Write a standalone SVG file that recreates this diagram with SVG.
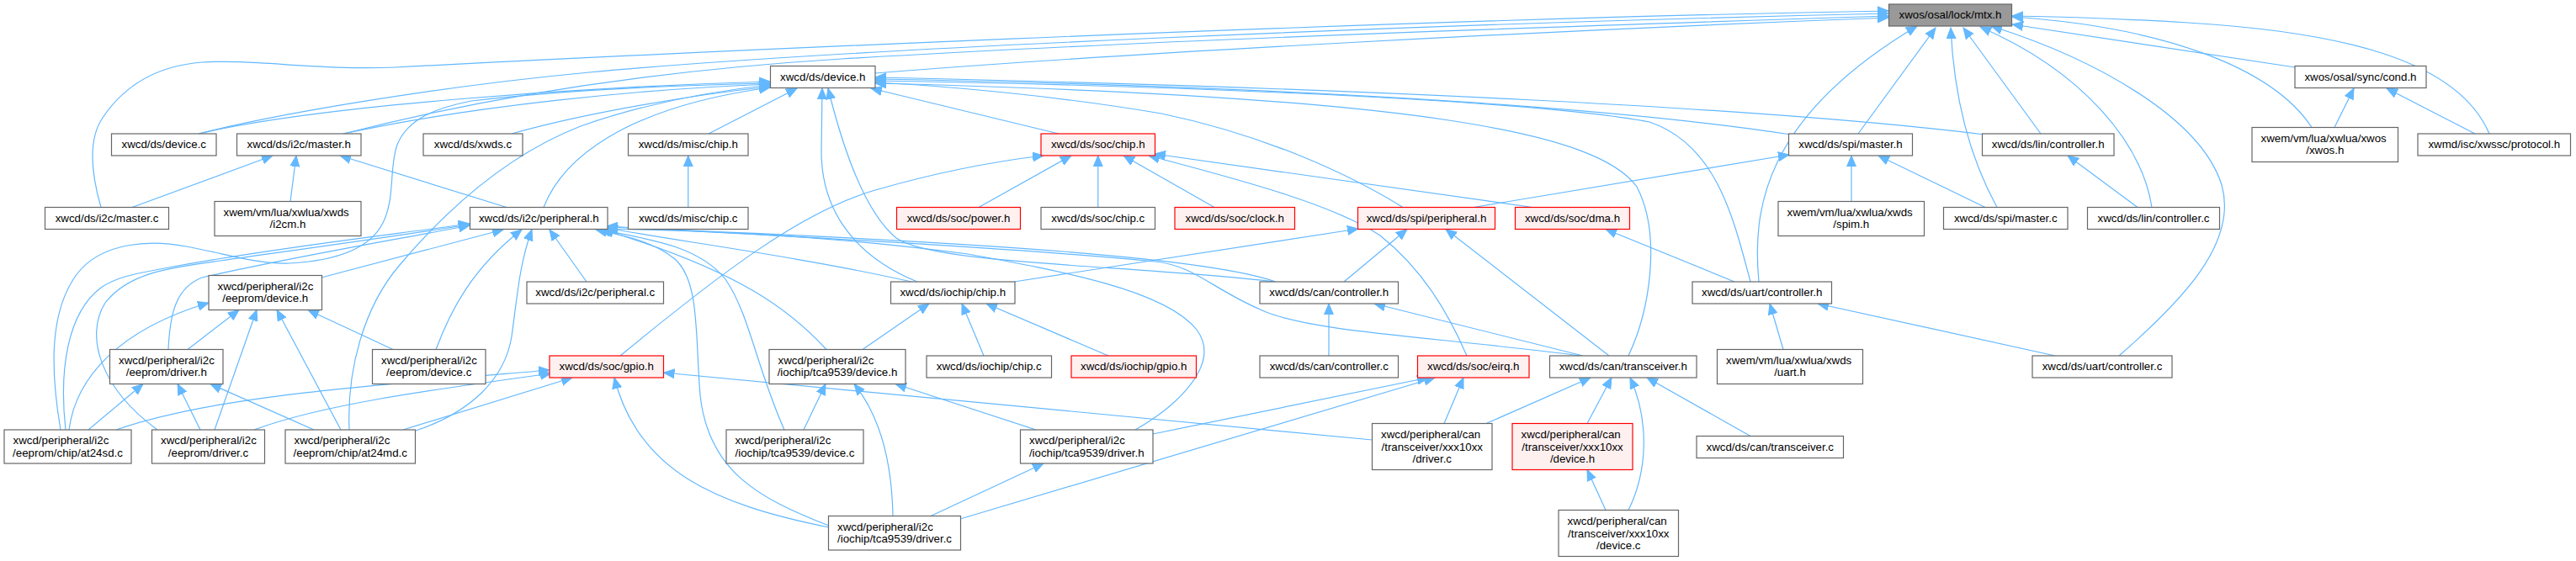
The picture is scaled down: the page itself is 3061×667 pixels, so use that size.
<svg xmlns="http://www.w3.org/2000/svg" width="3061" height="667" viewBox="0 0 3061 667">
<style>
.n{fill:#ffffff;stroke:#666666;stroke-width:1.2}
.r{fill:#fff0f0;stroke:#ff0000;stroke-width:1.2}
.g{fill:#999999;stroke:#666666;stroke-width:1.2}
text{font-family:"Liberation Sans",Arial,Helvetica,sans-serif;font-size:13.3px;fill:#000000}
.c{text-anchor:middle}
.s{text-anchor:start}
#edges path{fill:none;stroke:#63b8ff;stroke-width:1.2;marker-end:url(#a)}
</style>
<defs>
<marker id="a" viewBox="0 -6 14 12" refX="13" refY="0" markerWidth="14" markerHeight="12" markerUnits="userSpaceOnUse" orient="auto"><path d="M0,-5.5L13,0L0,5.5z" fill="#63b8ff" stroke="#63b8ff" stroke-width="1"/></marker>
</defs>
<rect width="3061" height="667" fill="#ffffff"/>
<g id="edges">
<path d="M1040,87 C1350,62 1850,36 2244,21"/>
<path d="M236,159 C330,135 520,103 700,86 C1000,58 1700,28 2244,16"/>
<path d="M408,159 C560,120 760,85 1000,70 C1400,46 1900,30 2244,19"/>
<path d="M120,246.5 C108,205 105,165 122,140 C150,98 190,78 240,74 C300,70 380,84 470,80 C700,68 1600,24 2244,13"/>
<path d="M2208,159 L2300,33"/>
<path d="M2373,246.5 C2342,190 2322,120 2318,33"/>
<path d="M2425,159 L2333,33"/>
<path d="M2557,246.5 C2545,170 2475,85 2353,32"/>
<path d="M2518,423 C2590,360 2660,290 2640,220 C2615,140 2490,70 2366,31"/>
<path d="M2090,335 C2082,250 2095,140 2278,31"/>
<path d="M2727,80 L2391,29"/>
<path d="M2747,151.5 C2700,80 2570,32 2391,20"/>
<path d="M2958,159 C2920,70 2780,38 2600,27 C2520,22 2450,20 2391,19"/>
<path d="M2774,151.5 L2797,105"/>
<path d="M2941,159 L2836,105"/>
<path d="M236,159 C380,125 700,103 915,97"/>
<path d="M408,159 C560,126 760,106 915,100"/>
<path d="M608,159 C700,133 830,112 915,103"/>
<path d="M842,159 L947,105"/>
<path d="M646,246.5 C668,190 740,128 915,104"/>
<path d="M415,511 C412,440 432,365 475,315 C530,250 600,185 690,150 C770,122 850,108 915,101"/>
<path d="M72,511 C60,440 58,370 92,325 C122,287 180,285 221,293 C270,302 310,315 344,313 C400,310 440,295 455,265 C470,235 462,200 472,172 C485,140 520,128 560,120 C680,106 820,101 915,99"/>
<path d="M1258,159 L1035,105"/>
<path d="M1090,335 C1005,300 976,240 976,180 L977,105"/>
<path d="M1515,335 C1350,315 1110,315 1065,283 C1025,250 1000,170 984,105"/>
<path d="M1667,246.5 C1600,205 1500,160 1380,135 C1250,113 1120,102 1040,98"/>
<path d="M2128,160 C1900,125 1500,102 1040,94"/>
<path d="M2358,160 C2100,128 1600,104 1040,92"/>
<path d="M2080,335 C2060,260 2040,172 1960,145 C1800,115 1300,100 1040,96"/>
<path d="M1935,423 C1960,370 1975,280 1945,222 C1900,160 1700,115 1040,99"/>
<path d="M602,246.5 L404,185"/>
<path d="M157,246.5 L324,185"/>
<path d="M345,239.5 L352,185"/>
<path d="M382,330 L598,273"/>
<path d="M200,415.5 C202,370 210,342 240,330 C350,305 470,285 558,268"/>
<path d="M78,511 C70,440 80,372 120,342 C140,328 165,325 195,319 C320,296 450,281 558,266"/>
<path d="M187,511 C120,462 100,400 125,360 C152,325 200,318 262,310 C360,296 470,281 558,267"/>
<path d="M494,512 C560,490 600,450 608,400 C615,350 617,315 632,273"/>
<path d="M518,415.5 C535,370 560,320 620,273"/>
<path d="M697,335 L653,273"/>
<path d="M982,415.5 C940,370 880,322 716,273"/>
<path d="M932,511 C900,440 890,372 862,332 C830,292 770,284 712,273"/>
<path d="M985,625 C900,592 842,560 832,470 C826,400 832,335 802,308 C775,286 740,280 708,273"/>
<path d="M1349,511 C1400,482 1452,432 1422,392 C1385,345 1260,322 1150,302 C1000,282 850,274 721,272"/>
<path d="M1083,335 C950,305 800,286 721,271"/>
<path d="M1516,335 C1440,308 1200,289 721,270"/>
<path d="M1879,423 C1700,400 1562,395 1502,370 C1442,345 1420,316 1373,311 C1200,294 900,279 721,269"/>
<path d="M82,511 C90,450 140,392 248,360"/>
<path d="M223,415.5 L284,368.5"/>
<path d="M255,511 L305,368.5"/>
<path d="M405,511 L329,368.5"/>
<path d="M467,415.5 L366,368.5"/>
<path d="M105,511 L170,456.5"/>
<path d="M238,511 L211,456.5"/>
<path d="M373,511 L250,456.5"/>
<path d="M138,511 C250,472 420,460 653,440"/>
<path d="M302,511 C380,482 500,465 655,444"/>
<path d="M479,511 L680,449"/>
<path d="M985,627 C850,600 758,560 730,449"/>
<path d="M1630.5,523 L788.5,443"/>
<path d="M737,423 C850,330 950,252 1040,226 C1120,203 1180,192 1240,185"/>
<path d="M1163,246.5 L1273,185"/>
<path d="M1304.75,246.5 L1304.75,185"/>
<path d="M1443,246.5 L1335,185"/>
<path d="M1821,246.5 L1372,183"/>
<path d="M1743,423 C1720,370 1690,320 1640,280 C1580,240 1450,208 1365,185"/>
<path d="M1751,246.5 L2126,184"/>
<path d="M2200,239.5 L2200,185"/>
<path d="M2359,246.5 L2232,185"/>
<path d="M2540,246.5 L2457,185"/>
<path d="M817.75,246.5 L817.75,185"/>
<path d="M1205,335 L1614,272"/>
<path d="M1597,335 L1672,272.5"/>
<path d="M1912,423 L1718,272.5"/>
<path d="M2061,335 L1908,272.5"/>
<path d="M2119,415.5 L2103,361"/>
<path d="M2442,423 L2160,361"/>
<path d="M1025,415.5 L1104,361"/>
<path d="M1169,423 L1143,361"/>
<path d="M1317,423 L1172,361"/>
<path d="M1579,423 L1579,361"/>
<path d="M1881,423 L1633,361"/>
<path d="M1716,503.5 L1739,449"/>
<path d="M1370,516 L1697,449"/>
<path d="M1141,617 C1300,570 1500,510 1705,449"/>
<path d="M1766,503.5 L1890,449"/>
<path d="M1886,503.5 L1915,449"/>
<path d="M1935,606.5 C1958,560 1960,500 1937,449"/>
<path d="M2080,518.5 L1957,449"/>
<path d="M1908,606.5 L1886,558.5"/>
<path d="M955,511 L981,456.5"/>
<path d="M1061,613.5 C1060,560 1050,500 1015,456.5"/>
<path d="M1231,511 L1064,456.5"/>
<path d="M1106,613.5 L1240,551"/>
</g>
<g id="mtx"><rect class="g" x="2244.5" y="5" width="146" height="26"/><text class="c" x="2317.5" y="22">xwos/osal/lock/mtx.h</text></g>
<g id="devh"><rect class="n" x="915.5" y="78.5" width="124.5" height="26"/><text class="c" x="977.75" y="95.5">xwcd/ds/device.h</text></g>
<g id="cond"><rect class="n" x="2727" y="78.5" width="156" height="26"/><text class="c" x="2805" y="95.5">xwos/osal/sync/cond.h</text></g>
<g id="devc"><rect class="n" x="132.5" y="159" width="124.5" height="26"/><text class="c" x="194.75" y="176">xwcd/ds/device.c</text></g>
<g id="i2cmh"><rect class="n" x="281.5" y="159" width="147.5" height="26"/><text class="c" x="355.25" y="176">xwcd/ds/i2c/master.h</text></g>
<g id="xwds"><rect class="n" x="503" y="159" width="118" height="26"/><text class="c" x="562" y="176">xwcd/ds/xwds.c</text></g>
<g id="mischiph"><rect class="n" x="746.5" y="159" width="142.5" height="26"/><text class="c" x="817.75" y="176">xwcd/ds/misc/chip.h</text></g>
<g id="socchip"><rect class="r" x="1237" y="159" width="135.5" height="26"/><text class="c" x="1304.75" y="176">xwcd/ds/soc/chip.h</text></g>
<g id="spimh"><rect class="n" x="2125.5" y="159" width="147" height="26"/><text class="c" x="2199" y="176">xwcd/ds/spi/master.h</text></g>
<g id="linh"><rect class="n" x="2355.5" y="159" width="156.5" height="26"/><text class="c" x="2433.75" y="176">xwcd/ds/lin/controller.h</text></g>
<g id="xwos"><rect class="n" x="2676" y="151.5" width="173.5" height="41"/><text class="s" x="2686.5" y="168.5">xwem/vm/lua/xwlua/xwos</text><text class="c" x="2762.75" y="183">/xwos.h</text></g>
<g id="protocol"><rect class="n" x="2873" y="159" width="181.5" height="26"/><text class="c" x="2963.75" y="176">xwmd/isc/xwssc/protocol.h</text></g>
<g id="i2cmc"><rect class="n" x="53.5" y="246.5" width="147" height="26"/><text class="c" x="127" y="263.5">xwcd/ds/i2c/master.c</text></g>
<g id="i2cm"><rect class="n" x="255" y="239.5" width="174" height="41"/><text class="s" x="265.5" y="256.5">xwem/vm/lua/xwlua/xwds</text><text class="c" x="342" y="271">/i2cm.h</text></g>
<g id="periph"><rect class="n" x="558.5" y="246.5" width="163.5" height="26"/><text class="c" x="640.25" y="263.5">xwcd/ds/i2c/peripheral.h</text></g>
<g id="mischipc"><rect class="n" x="746.5" y="246.5" width="142.5" height="26"/><text class="c" x="817.75" y="263.5">xwcd/ds/misc/chip.c</text></g>
<g id="power"><rect class="r" x="1065.5" y="246.5" width="147" height="26"/><text class="c" x="1139" y="263.5">xwcd/ds/soc/power.h</text></g>
<g id="socchipc"><rect class="n" x="1237" y="246.5" width="135.5" height="26"/><text class="c" x="1304.75" y="263.5">xwcd/ds/soc/chip.c</text></g>
<g id="clock"><rect class="r" x="1396" y="246.5" width="142.5" height="26"/><text class="c" x="1467.25" y="263.5">xwcd/ds/soc/clock.h</text></g>
<g id="spiperiph"><rect class="r" x="1613.5" y="246.5" width="163" height="26"/><text class="c" x="1695" y="263.5">xwcd/ds/spi/peripheral.h</text></g>
<g id="dma"><rect class="r" x="1800.5" y="246.5" width="136" height="26"/><text class="c" x="1868.5" y="263.5">xwcd/ds/soc/dma.h</text></g>
<g id="spim"><rect class="n" x="2113" y="239.5" width="173.5" height="41"/><text class="s" x="2123.5" y="256.5">xwem/vm/lua/xwlua/xwds</text><text class="c" x="2199.75" y="271">/spim.h</text></g>
<g id="spimc"><rect class="n" x="2309.5" y="246.5" width="147.5" height="26"/><text class="c" x="2383.25" y="263.5">xwcd/ds/spi/master.c</text></g>
<g id="linc"><rect class="n" x="2480.5" y="246.5" width="157" height="26"/><text class="c" x="2559" y="263.5">xwcd/ds/lin/controller.c</text></g>
<g id="eepdevh"><rect class="n" x="248" y="327.5" width="134.5" height="41"/><text class="s" x="258.5" y="344.5">xwcd/peripheral/i2c</text><text class="c" x="315.25" y="359">/eeprom/device.h</text></g>
<g id="periphc"><rect class="n" x="626" y="335" width="162.5" height="26"/><text class="c" x="707.25" y="352">xwcd/ds/i2c/peripheral.c</text></g>
<g id="iochiph"><rect class="n" x="1058.5" y="335" width="147.5" height="26"/><text class="c" x="1132.25" y="352">xwcd/ds/iochip/chip.h</text></g>
<g id="canctlh"><rect class="n" x="1497" y="335" width="164.5" height="26"/><text class="c" x="1579.25" y="352">xwcd/ds/can/controller.h</text></g>
<g id="uartctlh"><rect class="n" x="2011" y="335" width="165.5" height="26"/><text class="c" x="2093.75" y="352">xwcd/ds/uart/controller.h</text></g>
<g id="eepdrvh"><rect class="n" x="130.5" y="415.5" width="134.5" height="41"/><text class="s" x="141" y="432.5">xwcd/peripheral/i2c</text><text class="c" x="197.75" y="447">/eeprom/driver.h</text></g>
<g id="eepdevc"><rect class="n" x="442.5" y="415.5" width="134.5" height="41"/><text class="s" x="453" y="432.5">xwcd/peripheral/i2c</text><text class="c" x="509.75" y="447">/eeprom/device.c</text></g>
<g id="gpio"><rect class="r" x="653" y="423" width="135.5" height="26"/><text class="c" x="720.75" y="440">xwcd/ds/soc/gpio.h</text></g>
<g id="tcadevh"><rect class="n" x="914" y="415.5" width="162" height="41"/><text class="s" x="924.5" y="432.5">xwcd/peripheral/i2c</text><text class="c" x="995" y="447">/iochip/tca9539/device.h</text></g>
<g id="iochipc"><rect class="n" x="1101" y="423" width="148.5" height="26"/><text class="c" x="1175.25" y="440">xwcd/ds/iochip/chip.c</text></g>
<g id="iogpio"><rect class="r" x="1273" y="423" width="148.5" height="26"/><text class="c" x="1347.25" y="440">xwcd/ds/iochip/gpio.h</text></g>
<g id="canctlc"><rect class="n" x="1497" y="423" width="164.5" height="26"/><text class="c" x="1579.25" y="440">xwcd/ds/can/controller.c</text></g>
<g id="eirq"><rect class="r" x="1684.5" y="423" width="132.5" height="26"/><text class="c" x="1750.75" y="440">xwcd/ds/soc/eirq.h</text></g>
<g id="canxh"><rect class="n" x="1841.5" y="423" width="174.5" height="26"/><text class="c" x="1928.75" y="440">xwcd/ds/can/transceiver.h</text></g>
<g id="uart"><rect class="n" x="2040.5" y="415.5" width="173" height="41"/><text class="s" x="2051" y="432.5">xwem/vm/lua/xwlua/xwds</text><text class="c" x="2127" y="447">/uart.h</text></g>
<g id="uartctlc"><rect class="n" x="2415" y="423" width="166" height="26"/><text class="c" x="2498" y="440">xwcd/ds/uart/controller.c</text></g>
<g id="at24sd"><rect class="n" x="5" y="511" width="151" height="40"/><text class="s" x="15.5" y="528">xwcd/peripheral/i2c</text><text class="c" x="80.5" y="542.5">/eeprom/chip/at24sd.c</text></g>
<g id="eepdrvc"><rect class="n" x="180.5" y="511" width="134" height="40"/><text class="s" x="191" y="528">xwcd/peripheral/i2c</text><text class="c" x="247.5" y="542.5">/eeprom/driver.c</text></g>
<g id="at24md"><rect class="n" x="339" y="511" width="154.5" height="40"/><text class="s" x="349.5" y="528">xwcd/peripheral/i2c</text><text class="c" x="416.25" y="542.5">/eeprom/chip/at24md.c</text></g>
<g id="tcadevc"><rect class="n" x="863" y="511" width="163" height="40"/><text class="s" x="873.5" y="528">xwcd/peripheral/i2c</text><text class="c" x="944.5" y="542.5">/iochip/tca9539/device.c</text></g>
<g id="tcadrvh"><rect class="n" x="1212.5" y="511" width="157.5" height="40"/><text class="s" x="1223" y="528">xwcd/peripheral/i2c</text><text class="c" x="1291.25" y="542.5">/iochip/tca9539/driver.h</text></g>
<g id="xdrvc"><rect class="n" x="1630.5" y="503.5" width="142.5" height="55"/><text class="s" x="1641" y="521">xwcd/peripheral/can</text><text class="c" x="1701.75" y="535.5">/transceiver/xxx10xx</text><text class="c" x="1701.75" y="550">/driver.c</text></g>
<g id="xdevh"><rect class="r" x="1797" y="503.5" width="143" height="55"/><text class="s" x="1807.5" y="521">xwcd/peripheral/can</text><text class="c" x="1868.5" y="535.5">/transceiver/xxx10xx</text><text class="c" x="1868.5" y="550">/device.h</text></g>
<g id="canxc"><rect class="n" x="2016" y="518.5" width="174.5" height="26"/><text class="c" x="2103.25" y="535.5">xwcd/ds/can/transceiver.c</text></g>
<g id="tcadrvc"><rect class="n" x="984.5" y="613.5" width="157" height="40.5"/><text class="s" x="995" y="630.5">xwcd/peripheral/i2c</text><text class="c" x="1063" y="645">/iochip/tca9539/driver.c</text></g>
<g id="xdevc"><rect class="n" x="1852" y="606.5" width="142.5" height="55"/><text class="s" x="1862.5" y="624">xwcd/peripheral/can</text><text class="c" x="1923.25" y="638.5">/transceiver/xxx10xx</text><text class="c" x="1923.25" y="653">/device.c</text></g>
</svg>
